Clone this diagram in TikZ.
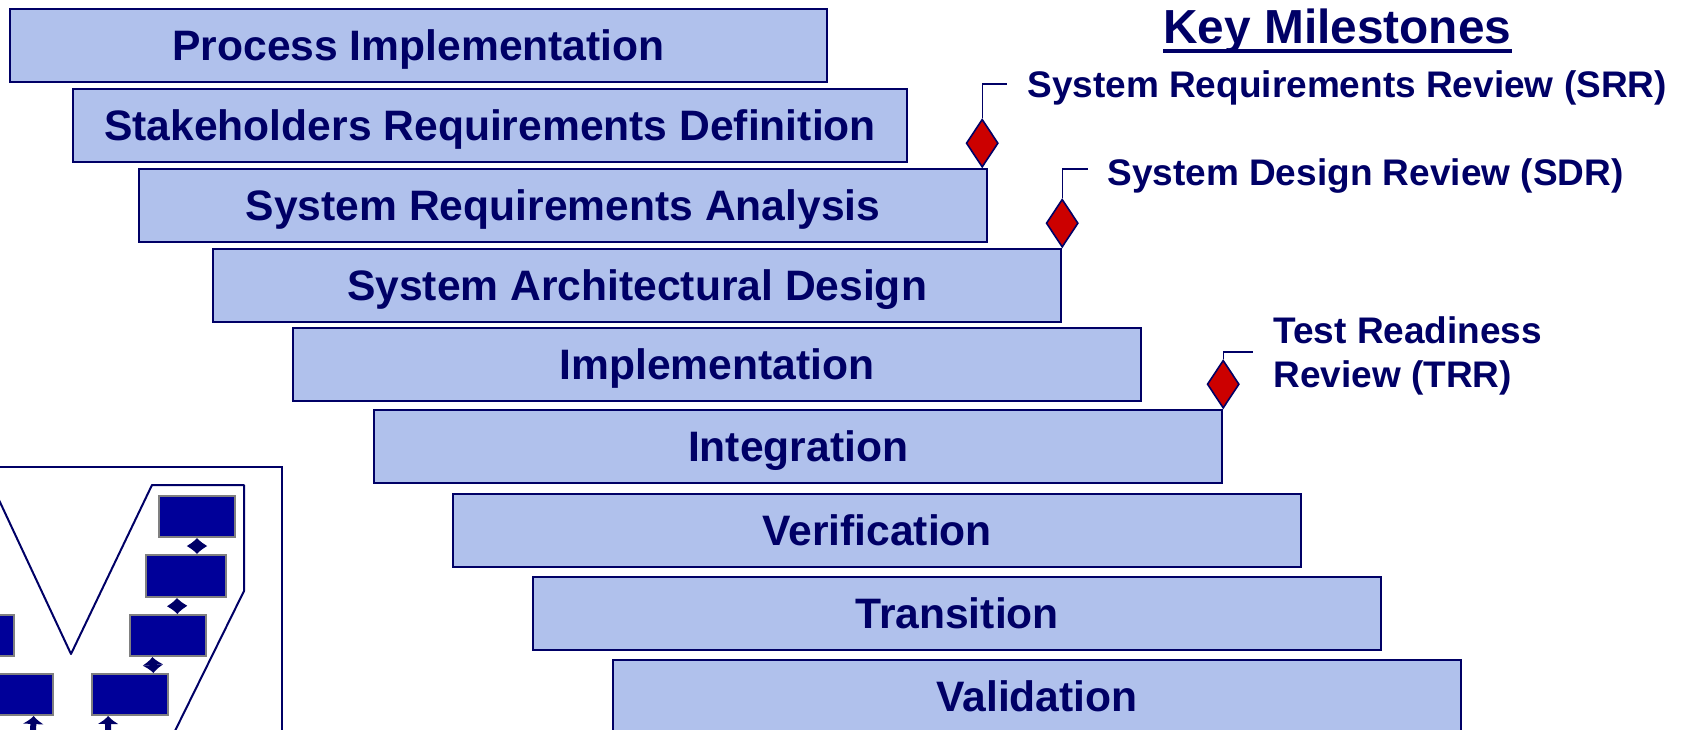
\documentclass[tikz,border=0pt]{standalone}
\usepackage{fontspec}
\setmainfont{Liberation Sans}
\usetikzlibrary{shapes.geometric,arrows.meta,calc}
\definecolor{navy}{RGB}{0,0,102}
\definecolor{barblue}{RGB}{176,193,236}
\definecolor{msred}{RGB}{204,0,0}
\definecolor{vblue}{RGB}{0,0,153}
\definecolor{vgray}{RGB}{128,128,128}
\begin{document}
\begin{tikzpicture}[x=0.5pt, y=-0.5pt,
  bar/.style={draw=navy, fill=barblue, line width=1.1pt, anchor=north west, inner sep=0pt,
    minimum width=424pt, minimum height=36.5pt, text height=15.2pt, text depth=0pt,
    text=navy, font=\fontsize{21.3}{25}\selectfont\bfseries},
  milestone/.style={diamond, draw=navy, fill=msred, line width=0.8pt, inner sep=0pt,
    minimum width=16pt, minimum height=24pt, anchor=south},
  stem/.style={draw=navy, line width=0.6pt},
  mslabel/.style={anchor=base west, inner sep=0pt, text=navy, align=left,
    font=\fontsize{18.5}{22}\selectfont\bfseries},
  vbox/.style={draw=vgray, fill=vblue, line width=1pt, anchor=north west, inner sep=0pt,
    minimum width=38pt, minimum height=20.5pt},
  vlink/.style={draw=navy, line width=3pt, arrows={Latex[length=4pt,width=11pt]-Latex[length=4pt,width=11pt]}}]
\useasboundingbox (0,0) rectangle (1689,729);
\node[bar, minimum width=408.5pt] (PI) at (9,8) {Process Implementation};
\node[bar, minimum width=417pt] (SRD) at (72,88) {Stakeholders Requirements Definition};
\node[bar] (SRA) at (138,168) {System Requirements Analysis};
\node[bar] (SAD) at (212,248) {System Architectural Design};
\node[bar] (IMP) at (292,327) {Implementation};
\node[bar] (INT) at (373,409) {Integration};
\node[bar] (VER) at (452,493) {Verification};
\node[bar] (TRA) at (532,576) {Transition};
\node[bar] (VAL) at (612,659) {Validation};
\node[anchor=base west, inner sep=0pt, text=navy, font=\fontsize{23.9}{28}\selectfont\bfseries] (KM) at (1163,43) {Key Milestones};
\draw[navy, line width=1.8pt] ([yshift=-4pt]KM.base west) -- ([yshift=-4pt]KM.base east);
\node[milestone] (SRR) at ([xshift=-3pt]SRA.north east) {};
\node[milestone] (SDR) at (SAD.north east) {};
\node[milestone] (TRR) at (INT.north east) {};
\coordinate (SRRend) at (1007,84);
\coordinate (SDRend) at (1088,169);
\coordinate (TRRend) at (1253,352);
\draw[stem] (SRR.north) |- (SRRend);
\draw[stem] (SDR.north) |- (SDRend);
\draw[stem] (TRR.north) |- (TRRend);
\node[mslabel] (SRRtext) at (1027,97) {System Requirements Review (SRR)};
\node[mslabel] (SDRtext) at (1107,185) {System Design Review (SDR)};
\node[mslabel] (TRRtext) at (1273,387) {Test Readiness\\Review (TRR)};
\draw[navy, line width=1pt] (-10,467) rectangle (282,745);
\draw[navy, line width=1pt, line join=round] (-8,485) -- (71,654) -- (152,485) -- (244,485) -- (244,591) -- (170,741);
\node[vbox] (VA) at (158,495) {};
\node[vbox, minimum width=40pt, minimum height=21pt] (VB) at (145,554) {};
\node[vbox] (VC) at (129,614) {};
\node[vbox] (VD) at (91,673) {};
\node[vbox] (VE) at (-63,614) {};
\node[vbox] (VF) at (-24,673) {};
\coordinate (VDlow) at (108,752);
\coordinate (VFlow) at (32,752);
\draw[vlink] (VA.south) -- (VA.south |- VB.north);
\draw[vlink] ($(VB.south west)!0.39!(VB.south east)$) -- ($(VC.north west)!0.62!(VC.north east)$);
\draw[vlink] ($(VC.south west)!0.3!(VC.south east)$) -- ($(VD.north west)!0.8!(VD.north east)$);
\draw[vlink] ($(VD.south west)!0.22!(VD.south east)$) -- (VDlow);
\draw[vlink] ($(VF.south west)!0.74!(VF.south east)$) -- (VFlow);
\end{tikzpicture}
\end{document}
